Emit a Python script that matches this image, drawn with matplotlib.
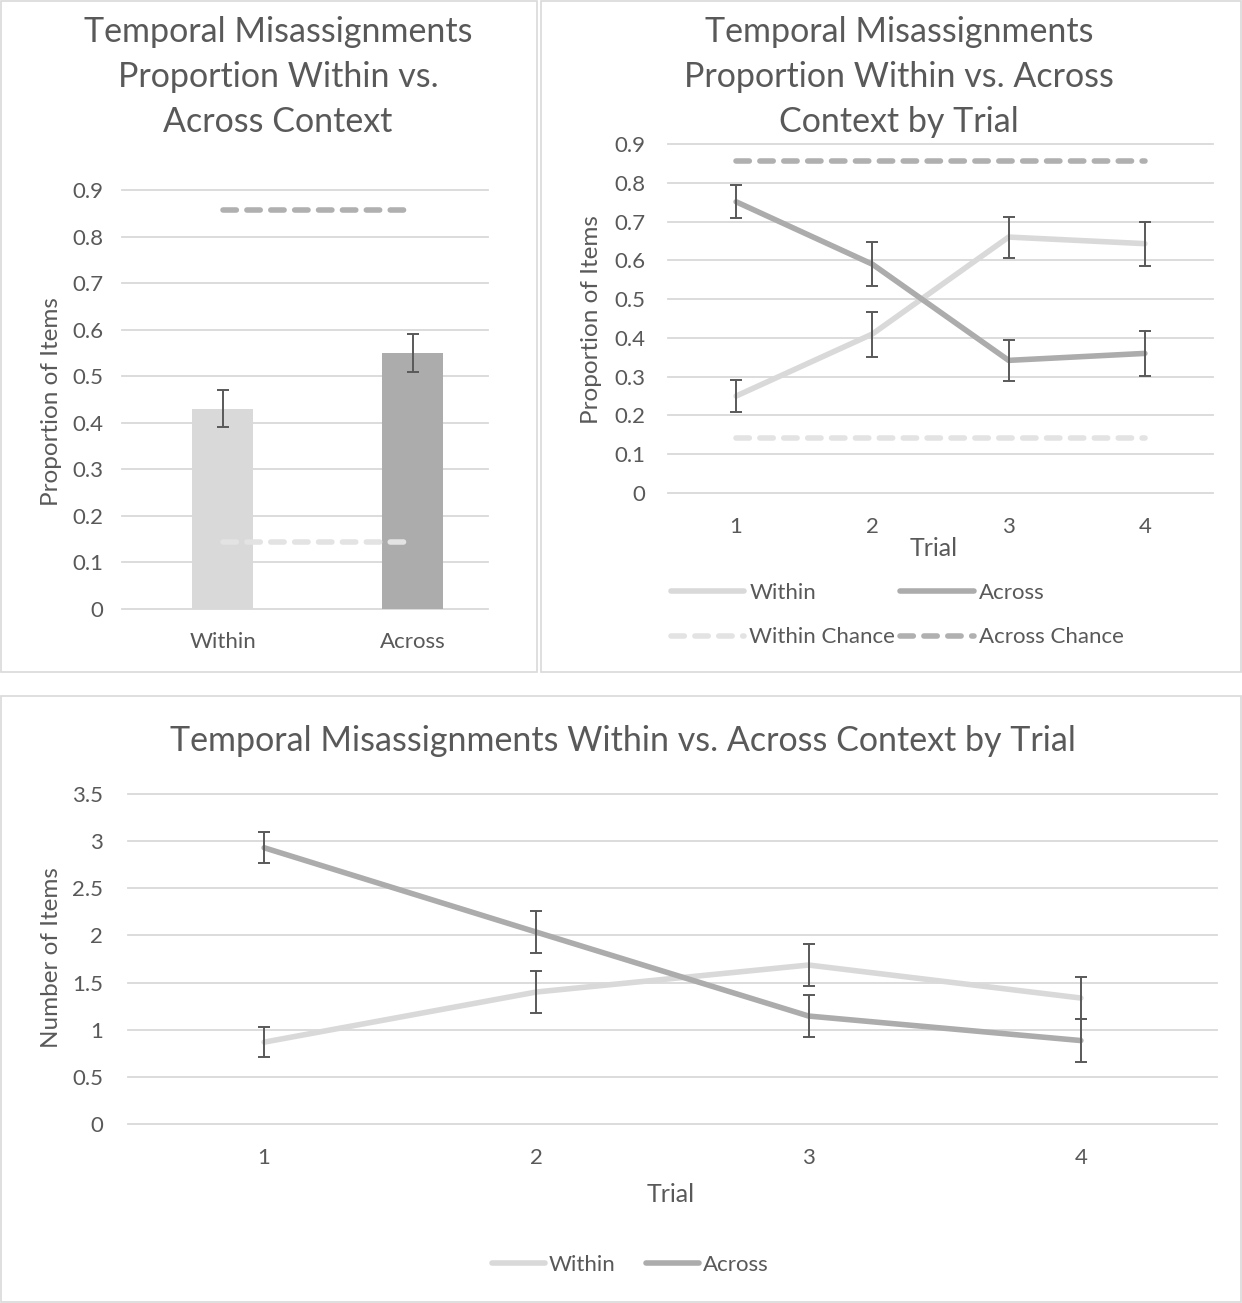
import matplotlib
matplotlib.use("Agg")
import matplotlib.pyplot as plt
from matplotlib.patches import Rectangle

plt.rcParams['font.family'] = ['Lato', 'DejaVu Sans']

# proportion of misassignments, collapsed over trials
groups = ["Within", "Across"]
prop_means = [0.43, 0.55]
prop_err = [0.04, 0.04]
within_chance = 1 / 7
across_chance = 6 / 7

# proportion by trial
trials = [1, 2, 3, 4]
prop_within = [0.25, 0.41, 0.66, 0.643]
prop_within_err = [0.042, 0.058, 0.053, 0.057]
prop_across = [0.751, 0.59, 0.342, 0.36]
prop_across_err = [0.043, 0.057, 0.052, 0.057]

# number of items by trial
num_within = [0.868, 1.40, 1.686, 1.336]
num_within_err = [0.16, 0.22, 0.22, 0.225]
num_across = [2.93, 2.035, 1.145, 0.885]
num_across_err = [0.165, 0.22, 0.22, 0.23]

W, H = 1242, 1303
TXT = '#595959'
GRID = '#d9d9d9'
LIGHT = '#d9d9d9'
DARK = '#acacac'
ERR = '#595959'
TICK = 16
LABEL = 17.5
TITLE = 24.5
LW = 4.0

fig = plt.figure(figsize=(W / 100, H / 100), dpi=100)


def fx(x):
    return x / W


def fy(y):
    return 1 - y / H


def axes_px(x0, y0, x1, y1):
    return fig.add_axes([fx(x0), fy(y1), (x1 - x0) / W, (y1 - y0) / H])


def panel_box(x0, y0, x1, y1):
    fig.patches.append(Rectangle((fx(x0), fy(y1)), (x1 - x0) / W, (y1 - y0) / H,
                                 transform=fig.transFigure, fill=False,
                                 edgecolor=GRID, linewidth=1.2))


def style(ax, ypad, xpad):
    for s in ax.spines.values():
        s.set_visible(False)
    ax.yaxis.grid(True, color=GRID, linewidth=1.3)
    ax.set_axisbelow(True)
    ax.tick_params(axis='both', length=0, colors=TXT, labelsize=TICK)
    ax.tick_params(axis='y', pad=ypad)
    ax.tick_params(axis='x', pad=xpad)
    for g in ax.get_ygridlines():
        g.set_clip_on(False)


def err(ax, x, y, e):
    ax.errorbar(x, y, yerr=e, fmt='none', ecolor=ERR, elinewidth=1.4,
                capsize=4.5, capthick=1.4, zorder=5)


panel_box(1, 1, 537, 672)
panel_box(541, 1, 1241, 672)
panel_box(1, 696, 1241, 1302)

dash = dict(linewidth=LW, dashes=(2.4, 1.9), dash_capstyle='round')

# --- bar chart: proportion within vs across ---
ax1 = axes_px(122, 190, 488, 609)
xs = range(len(groups))
ax1.bar(xs, prop_means, width=0.32, color=[LIGHT, DARK], zorder=2)
err(ax1, xs, prop_means, prop_err)
ax1.plot([0, 1], [across_chance] * 2, color='#b0b0b0', zorder=3, **dash)
ax1.plot([0, 1], [within_chance] * 2, color='#e3e3e3', zorder=3, **dash)
ax1.set_xlim(-0.53, 1.395)
ax1.set_ylim(0, 0.9)
ax1.set_yticks([i / 10 for i in range(10)])
ax1.set_yticklabels(['0'] + [f'{i / 10:.1f}' for i in range(1, 10)])
ax1.set_xticks(list(xs))
ax1.set_xticklabels(groups)
style(ax1, 13.5, 16.5)
fig.text(fx(278), fy(77), "Temporal Misassignments\nProportion Within vs.\nAcross Context",
         ha='center', va='center', fontsize=TITLE, color=TXT, linespacing=1.5)
fig.text(fx(52), fy(402), "Proportion of Items", rotation=90, ha='center',
         va='center', fontsize=LABEL, color=TXT)

# --- proportion by trial ---
ax2 = axes_px(668, 144, 1213, 493)
ax2.plot(trials, prop_within, color=LIGHT, linewidth=LW, solid_capstyle='round',
         label='Within', zorder=3)
ax2.plot(trials, prop_across, color=DARK, linewidth=LW, solid_capstyle='round',
         label='Across', zorder=3)
ax2.plot([trials[0], trials[-1]], [within_chance] * 2, color='#e3e3e3',
         label='Within Chance', zorder=3, **dash)
ax2.plot([trials[0], trials[-1]], [across_chance] * 2, color='#b0b0b0',
         label='Across Chance', zorder=3, **dash)
err(ax2, trials, prop_within, prop_within_err)
err(ax2, trials, prop_across, prop_across_err)
ax2.set_xlim(0.5, 4.5)
ax2.set_ylim(0, 0.9)
ax2.set_xticks(trials)
ax2.set_yticks([i / 10 for i in range(10)])
ax2.set_yticklabels(['0'] + [f'{i / 10:.1f}' for i in range(1, 10)])
style(ax2, 16.5, 17)
fig.text(fx(899), fy(77), "Temporal Misassignments\nProportion Within vs. Across\nContext by Trial",
         ha='center', va='center', fontsize=TITLE, color=TXT, linespacing=1.5)
fig.text(fx(592), fy(320), "Proportion of Items", rotation=90, ha='center',
         va='center', fontsize=LABEL, color=TXT)
fig.text(fx(934), fy(548), "Trial", ha='center', va='center', fontsize=18, color=TXT)
h = ax2.get_legend_handles_labels()
order = [0, 2, 1, 3]
fig.legend([h[0][i] for i in order], [h[1][i] for i in order], ncol=2,
           loc='upper left', bbox_to_anchor=(fx(671), fy(583)), frameon=False,
           fontsize=TICK, labelcolor=TXT, handlelength=3.3, handletextpad=0.23,
           columnspacing=0.23, labelspacing=1.1, borderpad=0, borderaxespad=0)

# --- number of items by trial ---
ax3 = axes_px(128, 794, 1217, 1124)
ax3.plot(trials, num_within, color=LIGHT, linewidth=LW, solid_capstyle='round',
         label='Within', zorder=3)
ax3.plot(trials, num_across, color=DARK, linewidth=LW, solid_capstyle='round',
         label='Across', zorder=3)
err(ax3, trials, num_within, num_within_err)
err(ax3, trials, num_across, num_across_err)
ax3.set_xlim(0.5, 4.5)
ax3.set_ylim(0, 3.5)
ax3.set_xticks(trials)
ax3.set_yticks([0, 0.5, 1, 1.5, 2, 2.5, 3, 3.5])
ax3.set_yticklabels(['0', '0.5', '1', '1.5', '2', '2.5', '3', '3.5'])
style(ax3, 18, 17)
fig.text(fx(623), fy(741), "Temporal Misassignments Within vs. Across Context by Trial",
         ha='center', va='center', fontsize=TITLE, color=TXT)
fig.text(fx(52), fy(958), "Number of Items", rotation=90, ha='center',
         va='center', fontsize=LABEL, color=TXT)
fig.text(fx(671), fy(1194), "Trial", ha='center', va='center', fontsize=18, color=TXT)
fig.legend(*ax3.get_legend_handles_labels(), ncol=2, loc='center',
           bbox_to_anchor=(fx(630), fy(1265)), frameon=False, fontsize=TICK,
           labelcolor=TXT, handlelength=2.4, handletextpad=0.14, columnspacing=1.4,
           borderpad=0, borderaxespad=0)

fig.savefig("out.png", dpi=100)
